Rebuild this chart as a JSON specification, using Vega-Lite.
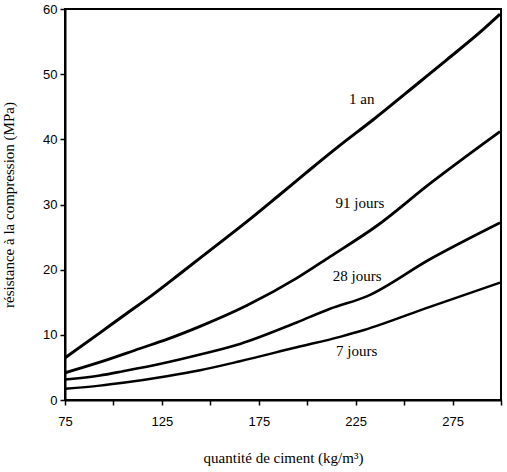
{
  "$schema": "https://vega.github.io/schema/vega-lite/v6.json",
  "width": 436,
  "height": 391,
  "autosize": "none",
  "padding": {"left": 65, "top": 9, "right": 6, "bottom": 72},
  "background": "white",
  "config": {
    "view": {"stroke": "black", "strokeWidth": 2},
    "axis": {
      "domainColor": "black",
      "domainWidth": 2,
      "tickColor": "black",
      "tickWidth": 1.5,
      "labelColor": "black",
      "labelFont": "Liberation Sans",
      "labelFontSize": 13,
      "titleColor": "black",
      "titleFont": "Liberation Serif",
      "titleFontSize": 15,
      "titleFontWeight": "normal",
      "grid": false
    }
  },
  "datasets": {
    "curves": [
      {"age": "1 an", "ciment": 75, "resistance": 6.45},
      {"age": "1 an", "ciment": 93, "resistance": 10.3},
      {"age": "1 an", "ciment": 105, "resistance": 12.9},
      {"age": "1 an", "ciment": 120, "resistance": 16.1},
      {"age": "1 an", "ciment": 134, "resistance": 19.3},
      {"age": "1 an", "ciment": 150, "resistance": 23.0},
      {"age": "1 an", "ciment": 169, "resistance": 27.4},
      {"age": "1 an", "ciment": 185, "resistance": 31.3},
      {"age": "1 an", "ciment": 200, "resistance": 35.0},
      {"age": "1 an", "ciment": 217, "resistance": 39.1},
      {"age": "1 an", "ciment": 234, "resistance": 43.0},
      {"age": "1 an", "ciment": 258, "resistance": 48.8},
      {"age": "1 an", "ciment": 272, "resistance": 52.2},
      {"age": "1 an", "ciment": 291, "resistance": 56.9},
      {"age": "1 an", "ciment": 299.5, "resistance": 59.2},

      {"age": "91 jours", "ciment": 75, "resistance": 4.17},
      {"age": "91 jours", "ciment": 93, "resistance": 5.8},
      {"age": "91 jours", "ciment": 113.7, "resistance": 7.9},
      {"age": "91 jours", "ciment": 127.5, "resistance": 9.3},
      {"age": "91 jours", "ciment": 144.7, "resistance": 11.3},
      {"age": "91 jours", "ciment": 168.8, "resistance": 14.5},
      {"age": "91 jours", "ciment": 194.6, "resistance": 18.7},
      {"age": "91 jours", "ciment": 211.8, "resistance": 22.0},
      {"age": "91 jours", "ciment": 235.8, "resistance": 26.7},
      {"age": "91 jours", "ciment": 263.3, "resistance": 33.2},
      {"age": "91 jours", "ciment": 299.5, "resistance": 41.2},

      {"age": "28 jours", "ciment": 75, "resistance": 3.15},
      {"age": "28 jours", "ciment": 93, "resistance": 3.76},
      {"age": "28 jours", "ciment": 105, "resistance": 4.42},
      {"age": "28 jours", "ciment": 125, "resistance": 5.6},
      {"age": "28 jours", "ciment": 144.7, "resistance": 6.98},
      {"age": "28 jours", "ciment": 165.3, "resistance": 8.6},
      {"age": "28 jours", "ciment": 194.6, "resistance": 11.9},
      {"age": "28 jours", "ciment": 211.8, "resistance": 14.0},
      {"age": "28 jours", "ciment": 230.7, "resistance": 15.9},
      {"age": "28 jours", "ciment": 263.3, "resistance": 21.6},
      {"age": "28 jours", "ciment": 299.5, "resistance": 27.2},

      {"age": "7 jours", "ciment": 75, "resistance": 1.72},
      {"age": "7 jours", "ciment": 93, "resistance": 2.2},
      {"age": "7 jours", "ciment": 105, "resistance": 2.64},
      {"age": "7 jours", "ciment": 127.5, "resistance": 3.65},
      {"age": "7 jours", "ciment": 144.7, "resistance": 4.57},
      {"age": "7 jours", "ciment": 165.3, "resistance": 5.95},
      {"age": "7 jours", "ciment": 194.6, "resistance": 8.1},
      {"age": "7 jours", "ciment": 216.9, "resistance": 9.7},
      {"age": "7 jours", "ciment": 228.9, "resistance": 10.7},
      {"age": "7 jours", "ciment": 263.3, "resistance": 14.3},
      {"age": "7 jours", "ciment": 299.5, "resistance": 18.0}
    ],
    "labels": [
      {"age": "1 an", "ciment": 228.1, "resistance": 46.2},
      {"age": "91 jours", "ciment": 227.2, "resistance": 30.3},
      {"age": "28 jours", "ciment": 225.8, "resistance": 19.1},
      {"age": "7 jours", "ciment": 225.5, "resistance": 7.5}
    ]
  },
  "layer": [
    {
      "data": {"name": "curves"},
      "mark": {"type": "line", "color": "black", "interpolate": "monotone", "strokeJoin": "round", "strokeCap": "butt", "clip": true},
      "encoding": {
        "x": {
          "field": "ciment",
          "type": "quantitative",
          "scale": {"domain": [75, 300], "nice": false, "zero": false},
          "axis": {
            "title": "quantité de ciment (kg/m³)",
            "values": [75, 100, 125, 150, 175, 200, 225, 250, 275, 300],
            "labelExpr": "(datum.value - 75) % 50 === 0 && datum.value < 300 ? datum.label : ''",
            "tickSize": 5,
            "labelPadding": 10,
            "labelFlush": false,
            "labelOverlap": false,
            "titleX": 218,
            "titleY": 57,
            "titleBaseline": "middle",
            "titleAnchor": null
          }
        },
        "y": {
          "field": "resistance",
          "type": "quantitative",
          "scale": {"domain": [0, 60], "nice": false},
          "axis": {
            "title": "résistance à la compression (MPa)",
            "values": [0, 5, 10, 15, 20, 25, 30, 35, 40, 45, 50, 55, 60],
            "labelExpr": "datum.value % 10 === 0 ? datum.label : ''",
            "tickSize": 5,
            "labelPadding": 3,
            "labelFlush": false,
            "labelOverlap": false,
            "titleX": -57,
            "titleY": 195.5,
            "titleBaseline": "middle",
            "titleAnchor": null
          }
        },
        "detail": {"field": "age", "type": "nominal"},
        "strokeWidth": {
          "field": "age",
          "type": "ordinal",
          "scale": {"domain": ["1 an", "91 jours", "28 jours", "7 jours"], "range": [3, 2.4, 1.8, 1.3]},
          "legend": null
        }
      }
    },
    {
      "data": {"name": "labels"},
      "mark": {"type": "text", "font": "Liberation Serif", "fontSize": 15, "color": "black", "align": "center", "baseline": "middle"},
      "encoding": {
        "x": {"field": "ciment", "type": "quantitative"},
        "y": {"field": "resistance", "type": "quantitative"},
        "text": {"field": "age", "type": "nominal"}
      }
    }
  ]
}
